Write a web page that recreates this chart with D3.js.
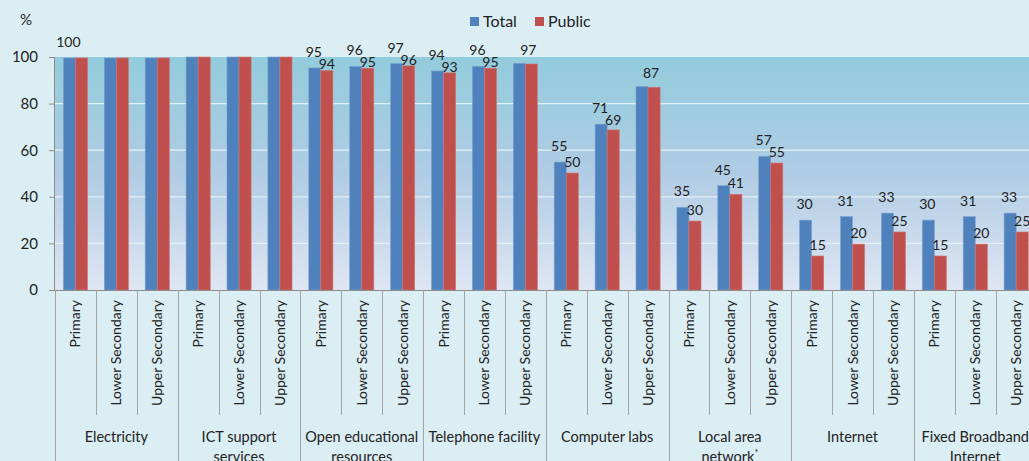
<!DOCTYPE html>
<html>
<head>
<meta charset="utf-8">
<script src="https://cdn.jsdelivr.net/npm/d3@7"></script>
<style>
  body { margin: 0; background: #dbeef4; }
  svg { display: block; font-family: Lato, "Open Sans", sans-serif; }
</style>
</head>
<body>
<div id="chart"></div>
<script>
// data
const categories = ["Electricity", "ICT support services", "Open educational resources",
    "Telephone facility", "Computer labs", "Local area network*", "Internet", "Fixed Broadband Internet"];
const categoryLines = [["Electricity"], ["ICT support", "services"], ["Open educational", "resources"],
    ["Telephone facility"], ["Computer labs"], ["Local area", "network*"], ["Internet"], ["Fixed Broadband", "Internet"]];
const levels = ["Primary", "Lower Secondary", "Upper Secondary"];
const series = ["Total", "Public"];

const totalValues = [99.6, 99.6, 99.6, 100, 100, 100, 95.3, 96, 97.2, 94, 96, 97.3,
    54.9, 71.2, 87.4, 35.5, 44.8, 57.4, 30, 31.5, 33, 30, 31.5, 33];
const publicValues = [99.6, 99.6, 99.6, 100, 100, 100, 94.2, 95.2, 96.2, 93.2, 95.2, 97,
    50.2, 68.7, 87, 29.6, 41.1, 54.5, 14.6, 19.7, 24.9, 14.6, 19.7, 24.9];
const totalLabels = ["100", null, null, null, null, null, "95", "96", "97", "94", "96", null,
    "55", "71", null, "35", "45", "57", "30", "31", "33", "30", "31", "33"];
const publicLabels = [null, null, null, null, null, null, "94", "95", "96", "93", "95", "97",
    "50", "69", "87", "30", "41", "55", "15", "20", "25", "15", "20", "25"];
const yTicks = [0, 20, 40, 60, 80, 100];

const width = 1029;
const height = 461;
const colors = {Total: "#4f81bd", Public: "#c0504d"};

const plotLeft = 55, plotTop = 57, plotBottom = 290;
const groupW = 122.7;

const svg = d3.select("#chart").append("svg")
    .attr("width", width)
    .attr("height", height);

// plot area gradient
const grad = svg.append("defs").append("linearGradient")
    .attr("id", "plotbg")
    .attr("x1", 0).attr("y1", 0).attr("x2", 0).attr("y2", 1);
grad.append("stop").attr("offset", "0%").attr("stop-color", "#92ccdc");
grad.append("stop").attr("offset", "50%").attr("stop-color", "#b0cce4");
grad.append("stop").attr("offset", "100%").attr("stop-color", "#dfe6f3");

const x0 = d3.scaleBand()
    .domain(categories)
    .range([plotLeft, plotLeft + groupW * categories.length]);
const x1 = d3.scaleBand()
    .domain(levels)
    .range([0, x0.bandwidth()]);
const x2 = d3.scaleBand()
    .domain(series)
    .range([x1.bandwidth() * 0.205, x1.bandwidth() * 0.795]);
const y = d3.scaleLinear()
    .domain([0, 100])
    .range([plotBottom, plotTop]);

svg.append("rect")
    .attr("x", plotLeft).attr("y", plotTop)
    .attr("width", width - plotLeft).attr("height", plotBottom - plotTop)
    .attr("fill", "url(#plotbg)");

// gridlines
svg.append("g")
    .selectAll("line")
    .data(yTicks.filter(d => d > 0 && d < 100))
    .join("line")
    .attr("x1", plotLeft).attr("x2", width)
    .attr("y1", d => y(d)).attr("y2", d => y(d))
    .attr("stroke", "#e4f0f7")
    .attr("stroke-width", 1.2);

// flatten rows
const rows = [];
categories.forEach(function (c, ci) {
    levels.forEach(function (l, li) {
        const i = ci * levels.length + li;
        rows.push({cat: c, level: l, i: i,
            Total: totalValues[i], Public: publicValues[i],
            tLabel: totalLabels[i], pLabel: publicLabels[i]});
    });
});

const bx = (d, s) => x0(d.cat) + x1(d.level) + x2(s);

series.forEach(function (s) {
    svg.append("g")
        .selectAll("rect")
        .data(rows)
        .join("rect")
        .attr("x", d => bx(d, s))
        .attr("y", d => y(d[s]))
        .attr("width", x2.bandwidth())
        .attr("height", d => plotBottom - y(d[s]))
        .attr("fill", colors[s])
        .attr("stroke", s === "Total" ? "#7ea3d0" : "#cf7572")
        .attr("stroke-width", 0.6);
});

// data labels
const lbl = svg.append("g")
    .attr("font-size", "14px")
    .attr("fill", "#222")
    .attr("text-anchor", "middle");

rows.forEach(function (d) {
    const tBase = y(d.Total) - 11;
    if (d.tLabel) {
        lbl.append("text")
            .attr("x", bx(d, "Total") + x2.bandwidth() / 2 - 1)
            .attr("y", tBase)
            .text(d.tLabel);
    }
    if (d.pLabel) {
        const pBase = d.tLabel ? Math.max(y(d.Public) - 6, tBase + 12) : y(d.Public) - 9;
        lbl.append("text")
            .attr("x", bx(d, "Public") + x2.bandwidth() / 2 - (d.tLabel ? 0 : 3))
            .attr("y", pBase)
            .text(d.pLabel);
    }
});

// y axis
const yAxis = svg.append("g")
    .attr("transform", `translate(${plotLeft},0)`)
    .call(d3.axisLeft(y).tickValues(yTicks).tickSize(6).tickPadding(11));
yAxis.select(".domain").attr("stroke", "#8c8c8c").attr("d", `M-0.5,${plotBottom}V${plotTop}`);
yAxis.selectAll(".tick line").attr("stroke", "#8c8c8c");
yAxis.selectAll(".tick text")
    .attr("font-size", "15px")
    .attr("font-family", "Lato, sans-serif")
    .attr("fill", "#222");

svg.append("text")
    .attr("x", 20).attr("y", 25)
    .attr("font-size", "15px")
    .attr("fill", "#222")
    .text("%");

// x axis line
svg.append("line")
    .attr("x1", plotLeft).attr("x2", width)
    .attr("y1", plotBottom + 0.5).attr("y2", plotBottom + 0.5)
    .attr("stroke", "#8c8c8c");

// separators
const sep = svg.append("g").attr("stroke", "#a3a3a3");
rows.forEach(function (d) {
    const xs = Math.round(x0(d.cat) + x1(d.level)) + 0.5;
    const isGroup = d.level === levels[0];
    sep.append("line")
        .attr("x1", xs).attr("x2", xs)
        .attr("y1", plotBottom).attr("y2", isGroup ? height : 415);
});

// level labels (rotated)
const lev = svg.append("g")
    .attr("font-size", "14px")
    .attr("fill", "#222")
    .attr("text-anchor", "end");
rows.forEach(function (d) {
    const cx = x0(d.cat) + x1(d.level) + x1.bandwidth() / 2;
    lev.append("text")
        .attr("transform", `translate(${cx},300) rotate(-90)`)
        .attr("dy", "0.36em")
        .text(d.level);
});

// category labels
const cat = svg.append("g")
    .attr("font-size", "14.5px")
    .attr("fill", "#222")
    .attr("text-anchor", "middle");
categories.forEach(function (c, ci) {
    const cx = x0(c) + x0.bandwidth() / 2;
    categoryLines[ci].forEach(function (line, li) {
        const t = cat.append("text")
            .attr("x", cx)
            .attr("y", 442 + li * 20);
        if (line.endsWith("*")) {
            t.append("tspan").text(line.slice(0, -1));
            t.append("tspan").attr("font-size", "9px").attr("dy", "-6").text("*");
        } else {
            t.text(line);
        }
    });
});

// legend
const leg = svg.append("g").attr("font-size", "16px").attr("fill", "#222");
const legX = {Total: 470, Public: 535};
series.forEach(function (s) {
    leg.append("rect")
        .attr("x", legX[s]).attr("y", 17)
        .attr("width", 9).attr("height", 9)
        .attr("fill", colors[s]);
    leg.append("text")
        .attr("x", legX[s] + 13).attr("y", 27)
        .text(s);
});
</script>
</body>
</html>
